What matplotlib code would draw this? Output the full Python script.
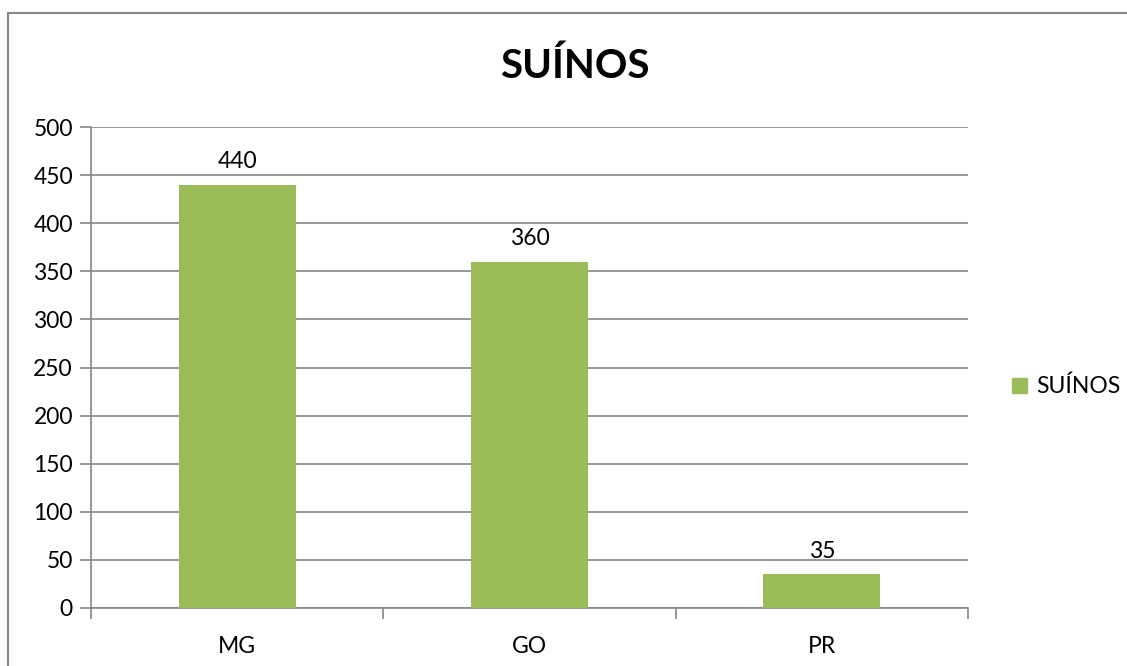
import numpy as np
import matplotlib
matplotlib.use('Agg')
import matplotlib.pyplot as plt
from matplotlib.lines import Line2D
from matplotlib.patches import Patch

# data
states = ['MG', 'GO', 'PR']
suinos = [440, 360, 35]
y_ticks = [0, 50, 100, 150, 200, 250, 300, 350, 400, 450, 500]

BAR = '#9BBB59'
GRID = '#868686'
FS = 16.5
plt.rcParams['font.family'] = ['Lato', 'DejaVu Sans']

fig = plt.figure(figsize=(11.27, 6.66), dpi=100)
ax = fig.add_axes([91 / 1127, 1 - 608 / 666, 877 / 1127, 481 / 666])

x = np.arange(len(states))
ax.bar(x, suinos, width=0.4, color=BAR, zorder=3)
for xi, v in zip(x, suinos):
    ax.annotate(str(v), (xi, v), xytext=(0, 9), textcoords='offset points',
                ha='center', va='bottom', fontsize=FS)

ax.set_xlim(-0.5, len(states) - 0.5)
ax.set_ylim(0, 500)
ax.set_yticks(y_ticks)
ax.set_xticks(x)
ax.set_xticklabels(states)
ax.set_xticks(np.arange(len(states) + 1) - 0.5, minor=True)
ax.tick_params(axis='x', which='major', length=0, pad=20, labelsize=FS)
ax.tick_params(axis='x', which='minor', length=8, width=1.2, color=GRID)
ax.tick_params(axis='y', length=8, width=1.2, color=GRID, pad=5, labelsize=FS)
ax.grid(axis='y', color=GRID, lw=1.2, zorder=0)
for s in ['top', 'right']:
    ax.spines[s].set_visible(False)
for s in ['left', 'bottom']:
    ax.spines[s].set_color(GRID)
    ax.spines[s].set_linewidth(1.2)

fig.text(575 / 1127, 1 - 66 / 666, 'SUÍNOS', ha='center', va='center',
         fontsize=29, fontweight='bold')

ax.legend(handles=[Patch(color=BAR, label='SUÍNOS')], loc='center left',
          bbox_to_anchor=(1.05, 0.46), frameon=False, fontsize=FS,
          handlelength=0.65, handleheight=0.65, handletextpad=0.4,
          borderaxespad=0, borderpad=0)

# chart frame (top and left edges visible in the reference)
fig.add_artist(Line2D([8 / 1127, 8 / 1127], [0, 1 - 13 / 666], color=GRID, lw=1.5))
fig.add_artist(Line2D([8 / 1127, 1], [1 - 13 / 666, 1 - 13 / 666], color=GRID, lw=1.5))

fig.savefig('out.png', dpi=100)
